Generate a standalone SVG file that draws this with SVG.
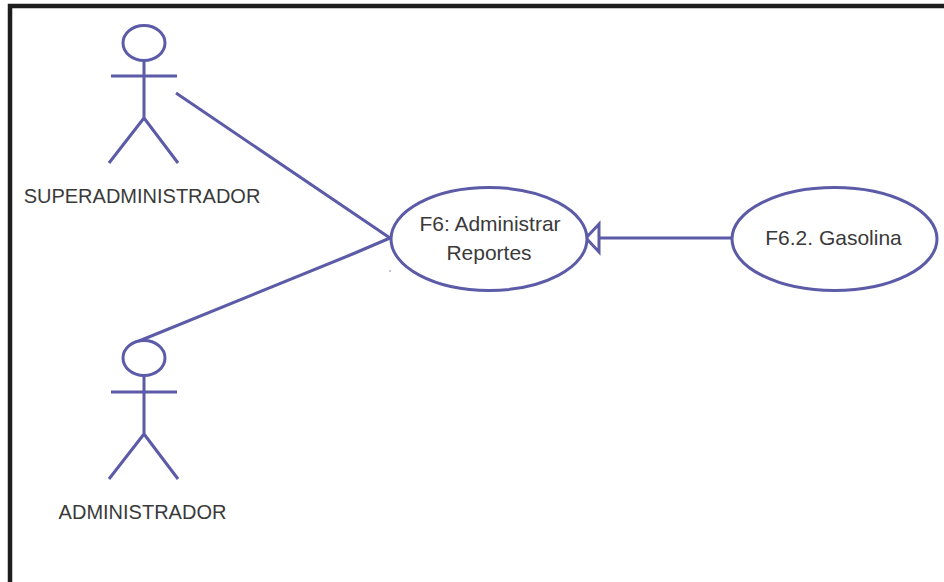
<svg xmlns="http://www.w3.org/2000/svg" width="944" height="582" viewBox="0 0 944 582">
<style>
.s{fill:none;stroke:#5b5ba8;stroke-width:3}
.e{fill:#fff;stroke:#5b5ba8;stroke-width:3}
.t{font-family:"Liberation Sans",Arial,sans-serif;fill:#3a3a3a;text-anchor:middle}
.a{font-size:20px}
.u{font-size:21px}
</style>
<rect width="944" height="582" fill="#fff"/>
<path d="M10 582V6H944" fill="none" stroke="#1e1e1e" stroke-width="4.5"/>
<circle cx="390" cy="271" r="0.7" fill="#5b5ba8"/>
<g id="connectors">
<path class="s" d="M176 93L390 238"/>
<path class="s" d="M139 341L355 253L390 238" stroke-width="3.500"/>
<path class="s" d="M733 238H600"/>
<path d="M599 224V252L586 238Z" fill="#fff" stroke="#5b5ba8" stroke-width="3"/>
</g>
<g id="superadmin">
<ellipse class="s" cx="144" cy="43" rx="21" ry="17.500"/>
<path class="s" d="M144 60V118M111 76H177M144 118L109 163M144 118L178 163"/>
<text class="t a" x="142" y="203">SUPERADMINISTRADOR</text>
</g>
<g id="admin">
<ellipse class="s" cx="144" cy="358" rx="21" ry="17.500"/>
<path class="s" d="M144 375V434M111 392H177M144 434L109 479M144 434L178 479"/>
<text class="t a" x="142.500" y="519">ADMINISTRADOR</text>
</g>
<g id="f6">
<ellipse class="e" cx="489" cy="239" rx="98" ry="51.500"/>
<text class="t u" x="490" y="231">F6: Administrar</text>
<text class="t u" x="489" y="260">Reportes</text>
</g>
<g id="f62">
<ellipse class="e" cx="834.500" cy="239" rx="102.500" ry="51.500"/>
<text class="t u" x="833.500" y="245">F6.2. Gasolina</text>
</g>
</svg>
